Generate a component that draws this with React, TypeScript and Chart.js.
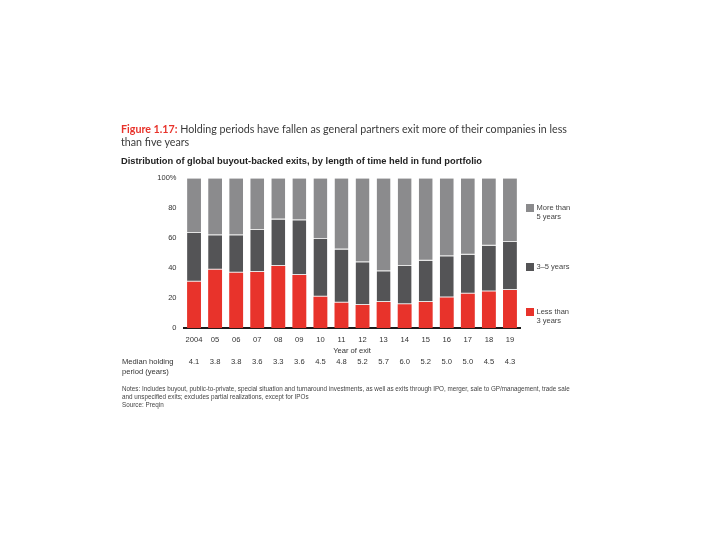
import React, { useEffect, useRef } from "react";
import { Chart, registerables } from "chart.js";

Chart.register(...registerables);

const years = ["2004", "05", "06", "07", "08", "09", "10", "11", "12", "13", "14", "15", "16", "17", "18", "19"];
const lessThan3 = [31, 39, 37, 37.5, 41.5, 35.5, 21, 17, 15.5, 17.5, 16, 17.5, 20.5, 23, 24.5, 25.5];
const threeToFive = [32.5, 23, 25, 28, 31, 36.5, 38.5, 35.5, 28.5, 20.5, 25.5, 27.5, 27.5, 26, 30.5, 32];
const moreThan5 = [36.5, 38, 38, 34.5, 27.5, 28, 40.5, 47.5, 56, 62, 58.5, 55, 52, 51, 45, 42.5];
const medianHolding = ["4.1", "3.8", "3.8", "3.6", "3.3", "3.6", "4.5", "4.8", "5.2", "5.7", "6.0", "5.2", "5.0", "5.0", "4.5", "4.3"];
const yTicks = [0, 20, 40, 60, 80, 100];

const RED = "#e8332b";
const DARK = "#545456";
const LIGHT = "#8b8b8d";
const FONT = "'Liberation Sans', Arial, sans-serif";

export default function App() {
  const ref = useRef<HTMLCanvasElement | null>(null);

  useEffect(() => {
    if (!ref.current) return;
    const rowPlugin = {
      id: "rows",
      afterDraw(chart: any) {
        const ctx = chart.ctx;
        const x = chart.scales.x;
        ctx.save();
        ctx.fillStyle = "#333";
        ctx.textBaseline = "middle";
        ctx.font = `7.6px ${FONT}`;
        ctx.textAlign = "center";
        ctx.fillText("Year of exit", (x.left + x.right) / 2, 350.5);
        medianHolding.forEach((v, i) => {
          ctx.fillText(v, x.getPixelForValue(i), 362);
        });
        ctx.textAlign = "left";
        ctx.fillText("Median holding", 122, 362);
        ctx.fillText("period (years)", 122, 371.5);
        ctx.restore();
      },
    };
    const chart = new Chart(ref.current, {
      type: "bar",
      data: {
        labels: years,
        datasets: [
          { label: "Less than 3 years", data: lessThan3, backgroundColor: RED, borderWidth: 0 },
          {
            label: "3–5 years",
            data: threeToFive,
            backgroundColor: DARK,
            borderColor: "#e4e4e4",
            borderWidth: { top: 0, bottom: 1, left: 0, right: 0 },
            borderSkipped: false,
          },
          {
            label: "More than 5 years",
            data: moreThan5,
            backgroundColor: LIGHT,
            borderColor: "#e4e4e4",
            borderWidth: { top: 0, bottom: 1, left: 0, right: 0 },
            borderSkipped: false,
          },
        ],
      },
      options: {
        responsive: false,
        animation: false,
        layout: { padding: { left: 130, right: 199.5, top: 178.3, bottom: 181.7 } },
        plugins: { legend: { display: false }, tooltip: { enabled: false }, title: { display: false } },
        datasets: { bar: { categoryPercentage: 1, barPercentage: 0.66 } },
        scales: {
          x: {
            stacked: true,
            grid: { display: false, drawTicks: false },
            border: { display: true, color: "#1a1a1a", width: 2 },
            ticks: { color: "#333", font: { family: FONT, size: 7.6 }, padding: 7, maxRotation: 0, autoSkip: false },
            afterFit: (s: any) => {
              s.height = 30;
            },
          },
          y: {
            stacked: true,
            min: 0,
            max: 100,
            grid: { display: false, drawTicks: false },
            border: { display: false },
            afterBuildTicks: (s: any) => {
              s.ticks = yTicks.map((v) => ({ value: v }));
            },
            ticks: {
              color: "#333",
              font: { family: FONT, size: 7.5 },
              padding: 7,
              callback: (v: any) => (v === 100 ? "100%" : String(v)),
            },
            afterFit: (s: any) => {
              s.width = 53.5;
            },
          },
        },
      },
      plugins: [rowPlugin],
    } as any);
    return () => chart.destroy();
  }, []);

  const legendItem = (color: string, lines: string[], top: number) => (
    <div style={{ position: "absolute", left: 525.5, top, display: "flex", alignItems: "flex-start" }}>
      <div style={{ width: 8, height: 8, background: color }} />
      <div style={{ marginLeft: 3, fontSize: 7.5, lineHeight: "9.8px", color: "#444", marginTop: -1 }}>
        {lines.map((l, i) => (
          <div key={i}>{l}</div>
        ))}
      </div>
    </div>
  );

  return (
    <div style={{ position: "absolute", left: 0, top: 0, width: 720, height: 540, background: "#fff", fontFamily: FONT }}>
      <canvas ref={ref} width={720} height={540} style={{ position: "absolute", left: 0, top: 0, width: 720, height: 540 }} />
      <div
        style={{
          position: "absolute",
          left: 121,
          top: 121.5,
          fontFamily: "Lato, sans-serif",
          fontSize: 10.7,
          lineHeight: "13px",
          color: "#3a3a3a",
          whiteSpace: "nowrap",
        }}
      >
        <span style={{ color: RED, fontWeight: 700 }}>Figure 1.17:</span> Holding periods have fallen as general partners exit more of their companies in less
        <br />
        than five years
      </div>
      <div
        style={{
          position: "absolute",
          left: 121,
          top: 155.5,
          fontSize: 9.3,
          lineHeight: "11px",
          fontWeight: 700,
          color: "#222",
          whiteSpace: "nowrap",
        }}
      >
        Distribution of global buyout-backed exits, by length of time held in fund portfolio
      </div>
      {legendItem(LIGHT, ["More than", "5 years"], 203.5)}
      {legendItem(DARK, ["3–5 years"], 262.5)}
      {legendItem(RED, ["Less than", "3 years"], 307.5)}
      <div
        style={{
          position: "absolute",
          left: 122,
          top: 385,
          fontSize: 6.3,
          lineHeight: "8px",
          color: "#444",
          whiteSpace: "nowrap",
        }}
      >
        <div>
          Notes: Includes buyout, public-to-private, special situation and turnaround investments, as well as exits through IPO, merger, sale to GP/management, trade sale
        </div>
        <div>and unspecified exits; excludes partial realizations, except for IPOs</div>
        <div>Source: Preqin</div>
      </div>
    </div>
  );
}
